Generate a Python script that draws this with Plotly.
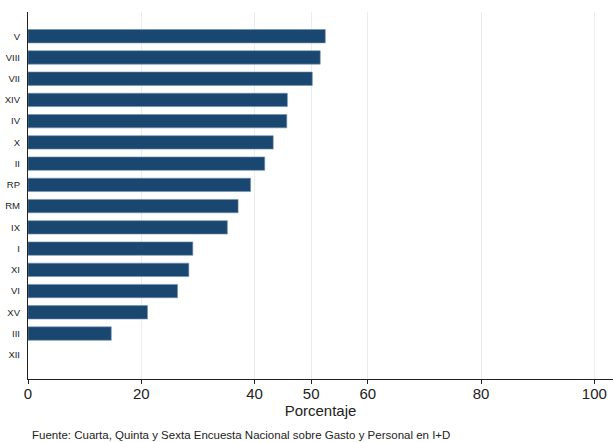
import plotly.graph_objects as go

categories = ["V", "VIII", "VII", "XIV", "IV", "X", "II", "RP", "RM", "IX", "I", "XI", "VI", "XV", "III", "XII"]
values = [52.5, 51.6, 50.2, 45.8, 45.7, 43.3, 41.8, 39.3, 37.1, 35.2, 29.1, 28.4, 26.4, 21.1, 14.7, 0]
x_ticks = [0, 20, 40, 50, 60, 80, 100]

fig = go.Figure()
fig.add_trace(go.Bar(
    x=values, y=categories, orientation="h",
    width=0.63,
    marker=dict(color="#1a476f",
                line=dict(color="#6f8fae", width=[0.6 if v > 0 else 0 for v in values])),
))

W, H = 613, 442
fig.update_layout(
    width=W, height=H,
    margin=dict(l=28, r=0, t=12, b=63),
    plot_bgcolor="white", paper_bgcolor="white",
    showlegend=False,
    font=dict(family="Liberation Sans, Arial, sans-serif", color="#222"),
    xaxis=dict(
        range=[0, 103.3],
        tickvals=x_ticks,
        ticktext=[str(t) for t in x_ticks],
        showgrid=True, gridcolor="#e6eef2", gridwidth=1,
        zeroline=False,
        showline=True, linecolor="#222", linewidth=1,
        ticks="outside", ticklen=4, tickcolor="#222",
        ticklabelstandoff=-3,
        tickfont=dict(size=15, color="#222"),
        title=dict(text="Porcentaje", font=dict(size=15, color="#222"), standoff=0),
        automargin=False,
    ),
    yaxis=dict(
        categoryorder="array", categoryarray=categories,
        range=[15 + 1.14, -1.14],
        showgrid=False, zeroline=False,
        showline=True, linecolor="#222", linewidth=1.2,
        ticks="", ticklabelstandoff=5,
        tickfont=dict(size=9.5, color="#222"),
        automargin=False,
    ),
    annotations=[dict(
        text="Fuente: Cuarta, Quinta y Sexta Encuesta Nacional sobre Gasto y Personal en I+D",
        xref="paper", yref="paper", x=0.0, y=0, xanchor="left", yanchor="top",
        yshift=-48, xshift=2, showarrow=False,
        font=dict(size=11.5, color="#222"),
    )],
)

fig.write_html("out.html",
               config={"displayModeBar": False},
               post_script="document.body.style.margin='0px';document.body.style.overflow='hidden';")
